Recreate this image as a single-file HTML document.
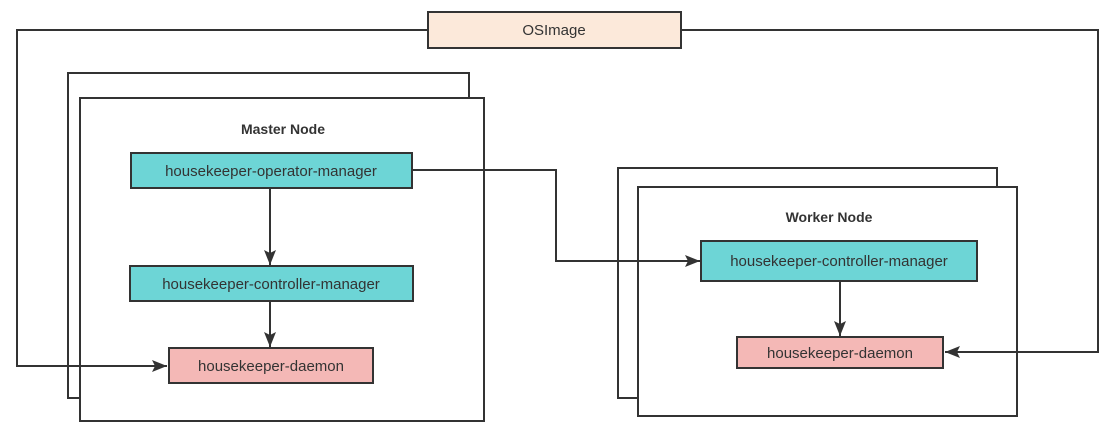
<!DOCTYPE html>
<html><head><meta charset="utf-8"><style>
html,body{margin:0;padding:0;background:#fff;}
svg{display:block;}
text{font-family:"Liberation Sans",sans-serif;fill:#333;}
</style></head><body>
<svg width="1110" height="427" viewBox="0 0 1110 427" xmlns="http://www.w3.org/2000/svg">
<defs>
<marker id="b" markerWidth="16" markerHeight="14" refX="15" refY="6" orient="auto" markerUnits="userSpaceOnUse">
<path d="M0,0 L15,6 L0,12 L3,6 Z" fill="#333"/>
</marker>
</defs>
<g fill="#fff" stroke="#333" stroke-width="2">
<rect x="68" y="73" width="401" height="325"/>
<rect x="80" y="98" width="404" height="323"/>
<rect x="618" y="168" width="379" height="230"/>
<rect x="638" y="187" width="379" height="229"/>
</g>
<g fill="none" stroke="#333" stroke-width="2">
<polyline points="428,30 17,30 17,366 167,366" marker-end="url(#b)"/>
<polyline points="681,30 1098,30 1098,352 945,352" marker-end="url(#b)"/>
<polyline points="412,170 556,170 556,261 700,261" marker-end="url(#b)"/>
<line x1="270" y1="188" x2="270" y2="265" marker-end="url(#b)"/>
<line x1="270" y1="301" x2="270" y2="347" marker-end="url(#b)"/>
<line x1="840" y1="281" x2="840" y2="336" marker-end="url(#b)"/>
</g>
<g stroke="#333" stroke-width="2">
<rect x="428" y="12" width="253" height="36" fill="#fce9da"/>
<rect x="131" y="153" width="281" height="35" fill="#6dd5d6"/>
<rect x="130" y="266" width="283" height="35" fill="#6dd5d6"/>
<rect x="169" y="348" width="204" height="35" fill="#f4b8b6"/>
<rect x="701" y="241" width="276" height="40" fill="#6dd5d6"/>
<rect x="737" y="337" width="206" height="31" fill="#f4b8b6"/>
</g>
<g font-size="15" text-anchor="middle">
<text x="554" y="35">OSImage</text>
<text x="271" y="176">housekeeper-operator-manager</text>
<text x="271" y="289">housekeeper-controller-manager</text>
<text x="271" y="371">housekeeper-daemon</text>
<text x="839" y="266">housekeeper-controller-manager</text>
<text x="840" y="358">housekeeper-daemon</text>
<text x="283" y="134" font-weight="bold" font-size="14">Master Node</text>
<text x="829" y="222" font-weight="bold" font-size="14">Worker Node</text>
</g>
</svg>
</body></html>
